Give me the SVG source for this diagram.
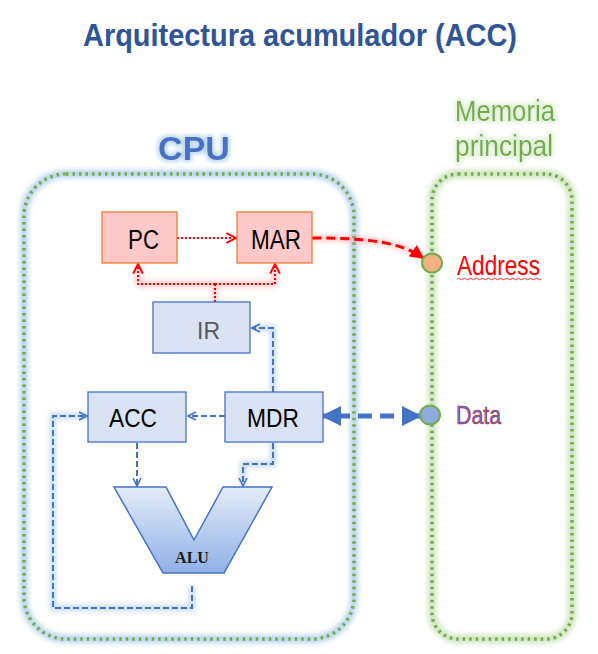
<svg xmlns="http://www.w3.org/2000/svg" width="598" height="654" viewBox="0 0 598 654">
  <defs>
    <style>
      .box-blue { fill: #DAE3F3; stroke: #4472C4; stroke-width: 1.3; }
      .box-red { fill: #FFC9C9; stroke: #ED7D31; stroke-width: 1.3; }
      .lbl { font-family: "Liberation Sans", Arial, sans-serif; fill: #000; }
      .blue-dash { fill: none; stroke: #4472C4; stroke-width: 2; stroke-dasharray: 6 3; }
      .blue-glow { fill: none; stroke: #9DC3E6; stroke-width: 6; opacity: 0.6; filter: url(#blur); }
      .red-dot { fill: none; stroke: #FF0000; stroke-width: 2; stroke-dasharray: 2 2; }
      .red-glow { fill: none; stroke: #FF9999; stroke-width: 7; opacity: 0.45; filter: url(#blur); }
      .cont-dots { fill: none; stroke: #70AD47; stroke-width: 3.5; stroke-dasharray: 2.5 4; }
    </style>
    <filter id="blur" x="-20%" y="-20%" width="140%" height="140%">
      <feGaussianBlur stdDeviation="2.5"/>
    </filter>
    <filter id="glowtext" x="-20%" y="-20%" width="140%" height="140%">
      <feMorphology in="SourceAlpha" operator="dilate" radius="2" result="d"/>
      <feGaussianBlur in="d" stdDeviation="2" result="b"/>
      <feFlood flood-color="#BDD7EE"/>
      <feComposite in2="b" operator="in" result="g"/>
      <feMerge><feMergeNode in="g"/><feMergeNode in="SourceGraphic"/></feMerge>
    </filter>
    <filter id="glowtextg" x="-20%" y="-20%" width="140%" height="140%">
      <feMorphology in="SourceAlpha" operator="dilate" radius="2" result="d"/>
      <feGaussianBlur in="d" stdDeviation="2" result="b"/>
      <feFlood flood-color="#E2F0D9"/>
      <feComposite in2="b" operator="in" result="g"/>
      <feMerge><feMergeNode in="g"/><feMergeNode in="SourceGraphic"/></feMerge>
    </filter>
    <linearGradient id="aluGrad" x1="0" y1="0" x2="0" y2="1">
      <stop offset="0" stop-color="#E4ECF8"/>
      <stop offset="1" stop-color="#8FB0E6"/>
    </linearGradient>
    <marker id="openBlue" viewBox="0 0 10 10" refX="9" refY="5" markerWidth="10" markerHeight="10" markerUnits="userSpaceOnUse" orient="auto">
      <path d="M1,1 L9,5 L1,9" fill="none" stroke="#4472C4" stroke-width="1.6"/>
    </marker>
    <marker id="openRed" viewBox="0 0 10 10" refX="9" refY="5" markerWidth="12" markerHeight="12" markerUnits="userSpaceOnUse" orient="auto">
      <path d="M1,1 L9,5 L1,9" fill="none" stroke="#FF0000" stroke-width="1.6"/>
    </marker>
    <marker id="fillRed" viewBox="0 0 10 10" refX="9" refY="5" markerWidth="14" markerHeight="14" markerUnits="userSpaceOnUse" orient="auto">
      <path d="M0,0 L10,5 L0,10 Z" fill="#FF0000"/>
    </marker>
    <marker id="fillBlue" viewBox="0 0 10 10" refX="9" refY="5" markerWidth="20" markerHeight="20" markerUnits="userSpaceOnUse" orient="auto-start-reverse">
      <path d="M0,0 L10,5 L0,10 Z" fill="#4472C4"/>
    </marker>
  </defs>

  <rect width="598" height="654" fill="#FFFFFF"/>

  <!-- Title -->
  <text x="83" y="46" font-family="'Liberation Sans', Arial, sans-serif" font-size="32" font-weight="bold" fill="#2F5597" textLength="434" lengthAdjust="spacingAndGlyphs">Arquitectura acumulador (ACC)</text>

  <!-- CPU container -->
  <g id="cpu">
    <rect x="24" y="174" width="330" height="465" rx="42" fill="none" stroke="#9DC3E6" stroke-width="8" opacity="0.7" filter="url(#blur)"/>
    <rect x="24" y="174" width="330" height="465" rx="42" class="cont-dots"/>
    <text x="194" y="160" font-family="'Liberation Sans', Arial, sans-serif" font-size="34" font-weight="bold" fill="#4472C4" text-anchor="middle" filter="url(#glowtext)">CPU</text>
  </g>

  <!-- Memory container -->
  <g id="memoria">
    <rect x="432" y="174" width="140" height="465" rx="26" fill="none" stroke="#C5E0B4" stroke-width="9" opacity="0.8" filter="url(#blur)"/>
    <rect x="432" y="174" width="140" height="465" rx="26" class="cont-dots"/>
    <text x="455" y="121" font-family="'Liberation Sans', Arial, sans-serif" font-size="29" fill="#70AD47" textLength="100" lengthAdjust="spacingAndGlyphs" filter="url(#glowtextg)">Memoria</text>
    <text x="455" y="156" font-family="'Liberation Sans', Arial, sans-serif" font-size="29" fill="#70AD47" textLength="98" lengthAdjust="spacingAndGlyphs" filter="url(#glowtextg)">principal</text>
  </g>

  <!-- Connectors -->
  <g id="connectors">
    <path class="red-glow" d="M177,238 L236,238"/>
    <path class="red-glow" d="M215,302 L215,284 M138,284 L275,284 M138,284 L138,265 M275,284 L275,265"/>
    <path class="red-glow" d="M312,238 C372,238 402,243 424,258"/>
    <path class="red-dot" d="M177,238 L236,238" marker-end="url(#openRed)"/>
    <path class="red-dot" d="M215,302 L215,284"/>
    <path class="red-dot" d="M215,284 L138,284 L138,264" marker-end="url(#openRed)"/>
    <path class="red-dot" d="M215,284 L275,284 L275,264" marker-end="url(#openRed)"/>
    <path d="M312,238 C372,238 402,243 423,258" fill="none" stroke="#FF0000" stroke-width="3" stroke-dasharray="9 5" marker-end="url(#fillRed)"/>

    <path class="blue-glow" d="M273,392 L273,328 L252,328"/>
    <path class="blue-glow" d="M225,416 L188,416"/>
    <path class="blue-glow" d="M137,442 L137,486"/>
    <path class="blue-glow" d="M273,442 L273,464 L243,464 L243,486"/>
    <path class="blue-glow" d="M192,586 L192,608 L53,608 L53,416 L88,416"/>
    <path class="blue-dash" d="M273,392 L273,328 L252,328" marker-end="url(#openBlue)"/>
    <path class="blue-dash" d="M225,416 L188,416" marker-end="url(#openBlue)"/>
    <path class="blue-dash" d="M137,443 L137,486" marker-end="url(#openBlue)"/>
    <path class="blue-dash" d="M273,443 L273,464 L243,464 L243,486" marker-end="url(#openBlue)"/>
    <path class="blue-dash" d="M192,586 L192,608 L53,608 L53,416 L87,416" marker-end="url(#openBlue)"/>
    <path d="M326,416 L418,416" fill="none" stroke="#9DC3E6" stroke-width="12" opacity="0.7" filter="url(#blur)"/>
    <path d="M332,416 L412,416" fill="none" stroke="#4472C4" stroke-width="5" stroke-dasharray="14 8" stroke-dashoffset="-4"/>
    <path d="M323,416 L333,416" fill="none" stroke="#4472C4" stroke-width="5" marker-start="url(#fillBlue)"/>
    <path d="M410,416 L420,416" fill="none" stroke="#4472C4" stroke-width="5" marker-end="url(#fillBlue)"/>
  </g>

  <!-- Nodes -->
  <g id="pc">
    <rect class="box-red" x="102" y="212" width="75" height="51"/>
    <text class="lbl" x="128" y="249" font-size="27" textLength="31" lengthAdjust="spacingAndGlyphs">PC</text>
  </g>
  <g id="mar">
    <rect class="box-red" x="237" y="212" width="75" height="51"/>
    <text class="lbl" x="251" y="249" font-size="27" textLength="50" lengthAdjust="spacingAndGlyphs">MAR</text>
  </g>
  <g id="ir">
    <rect class="box-blue" x="153" y="302" width="97" height="51"/>
    <text class="lbl" x="197" y="339" font-size="23" textLength="23" lengthAdjust="spacingAndGlyphs" style="fill:#595959">IR</text>
  </g>
  <g id="acc">
    <rect class="box-blue" x="88" y="392" width="98" height="50"/>
    <text class="lbl" x="109" y="427" font-size="25" textLength="48" lengthAdjust="spacingAndGlyphs">ACC</text>
  </g>
  <g id="mdr">
    <rect class="box-blue" x="225" y="392" width="98" height="50"/>
    <text class="lbl" x="247" y="427" font-size="25" textLength="52" lengthAdjust="spacingAndGlyphs">MDR</text>
  </g>
  <g id="alu">
    <polygon points="114,487 166,487 194,540 223,487 272,487 224,573 163,573" fill="url(#aluGrad)" stroke="#4472C4" stroke-width="1.5"/>
    <text x="192" y="563" font-family="'Liberation Serif', 'Times New Roman', serif" font-size="16" font-weight="bold" fill="#1a1a1a" text-anchor="middle">ALU</text>
  </g>
  <g id="address">
    <ellipse cx="432" cy="263" rx="10" ry="9.5" fill="#F4B183" stroke="#70AD47" stroke-width="2"/>
    <text x="457" y="275" font-family="'Liberation Sans', Arial, sans-serif" font-size="27" fill="#FF0000" textLength="83" lengthAdjust="spacingAndGlyphs">Address</text>
    <path d="M457,279 q1.5,-1.5 3,0 t3,0 t3,0 t3,0 t3,0 t3,0 t3,0 t3,0 t3,0 t3,0 t3,0 t3,0 t3,0 t3,0 t3,0 t3,0 t3,0 t3,0 t3,0 t3,0 t3,0 t3,0 t3,0 t3,0 t3,0 t3,0 t3,0 t3,0" fill="none" stroke="#FF0000" stroke-width="0.8"/>
  </g>
  <g id="data">
    <ellipse cx="430" cy="415" rx="10" ry="9.5" fill="#8FAADC" stroke="#70AD47" stroke-width="2"/>
    <text x="456" y="424" font-family="'Liberation Sans', Arial, sans-serif" font-size="26" fill="#4472C4" stroke="#E0202F" stroke-width="0.6" textLength="45" lengthAdjust="spacingAndGlyphs">Data</text>
  </g>
</svg>
